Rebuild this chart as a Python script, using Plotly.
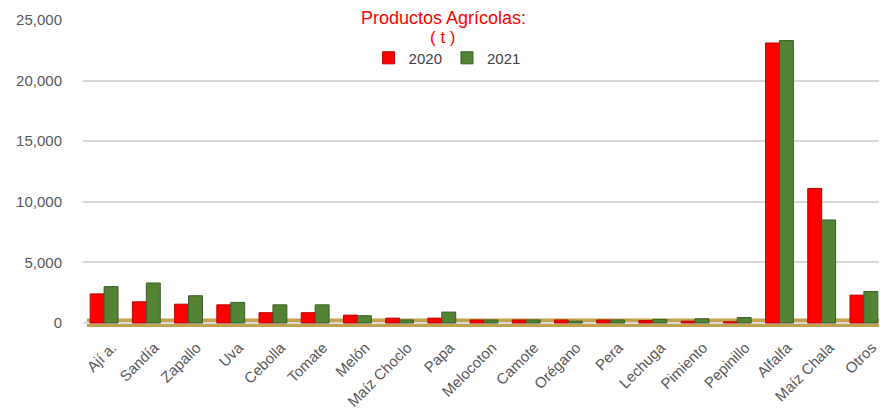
import plotly.graph_objects as go

categories = ["Ají a.", "Sandía", "Zapallo", "Uva", "Cebolla", "Tomate", "Melón", "Maíz Choclo",
              "Papa", "Melocoton", "Camote", "Orégano", "Pera", "Lechuga", "Pimiento", "Pepinillo",
              "Alfalfa", "Maíz Chala", "Otros"]
v2020 = [2400, 1750, 1550, 1500, 850, 850, 650, 400, 400, 250, 250, 250, 250, 200, 150, 100, 23100, 11100, 2300]
v2021 = [3000, 3300, 2250, 1700, 1500, 1500, 600, 250, 900, 250, 250, 150, 250, 300, 350, 450, 23300, 8500, 2600]
y_ticks = [0, 5000, 10000, 15000, 20000, 25000]
y_labels = ["0", "5,000", "10,000", "15,000", "20,000", "25,000"]

fig = go.Figure()
fig.add_trace(go.Bar(x=categories, y=v2020, name="2020",
                     marker=dict(color="#FF0000", line=dict(color="#C00000", width=1))))
fig.add_trace(go.Bar(x=categories, y=v2021, name="2021",
                     marker=dict(color="#548235", line=dict(color="#3B5E25", width=1))))

fig.add_shape(type="rect", xref="paper", yref="y", x0=0.005, x1=0.995, y0=-330, y1=380,
              fillcolor="#C3A24E", line=dict(width=0), layer="below")

fig.add_annotation(text="Productos Agrícolas:", xref="paper", yref="paper", x=0.449, y=1.0,
                   yshift=2, yanchor="middle", showarrow=False,
                   font=dict(family="Liberation Sans", size=18, color="#FF0000"))
fig.add_annotation(text="( t )", xref="paper", yref="paper", x=0.449, y=1.0,
                   yshift=-17, yanchor="middle", showarrow=False,
                   font=dict(family="Liberation Sans", size=17, color="#FF0000"))

fig.update_layout(
    width=887, height=410,
    margin=dict(l=75, r=10, t=12, b=91),
    paper_bgcolor="white", plot_bgcolor="white",
    barmode="group", bargap=0.34, bargroupgap=0.0,
    font=dict(family="Liberation Sans", size=13, color="#595959"),
    legend=dict(orientation="h", x=0.454, xanchor="center", y=0.876, yanchor="middle",
                font=dict(size=15, color="#404040"), itemwidth=30, traceorder="normal",
                bgcolor="rgba(0,0,0,0)"),
    showlegend=True,
)
fig.update_yaxes(range=[-330, 25000], tickvals=y_ticks, ticktext=y_labels,
                 showgrid=True, gridcolor="#D9D9D9", gridwidth=1.5, zeroline=False,
                 showline=False, ticks="", ticklabelstandoff=20, automargin=False,
                 tickfont=dict(size=15, color="#595959"))
fig.update_xaxes(tickangle=-45, showgrid=False, showline=False, ticks="", automargin=False,
                 ticklabelstandoff=8, ticklabelshift=8,
                 tickfont=dict(size=15, color="#595959"))

fig.write_html("out.html")
